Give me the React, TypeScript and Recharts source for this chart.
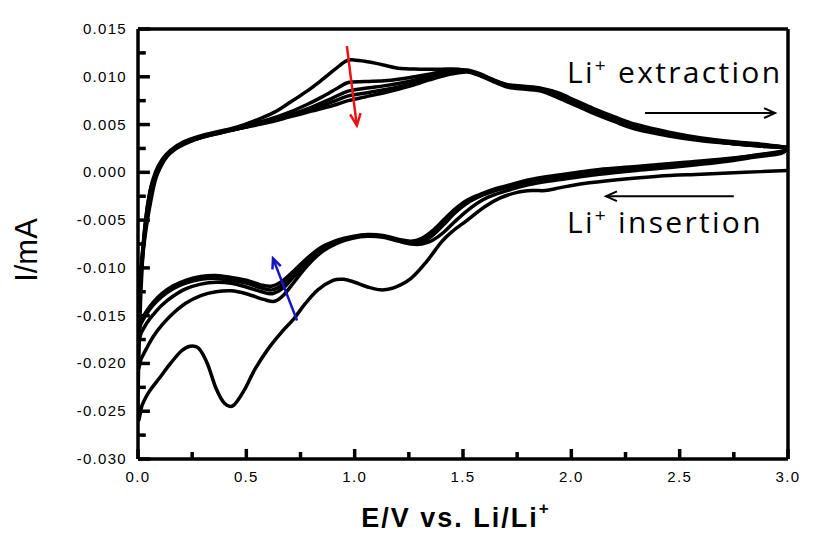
import { LineChart, Line, XAxis, YAxis, ReferenceLine } from 'recharts'

const INK = '#000'
const TICK_FONT = '"Liberation Sans", Arial, sans-serif'

// [E (V), I (mA)] — each cycle starts at 3.0 V, sweeps down (insertion) and back up (extraction)
const cycle1: [number, number][] = [
  [3.0, 0.0002], [2.8, 0.0], [2.6, -0.0002], [2.4, -0.0004], [2.2, -0.0008], [2.05, -0.0012], [1.95, -0.0016],
  [1.88, -0.0019], [1.82, -0.0019], [1.75, -0.0021], [1.67, -0.0027], [1.6, -0.0036], [1.52, -0.005], [1.45, -0.0062],
  [1.4, -0.0073], [1.33, -0.0094], [1.26, -0.0111], [1.18, -0.0121], [1.12, -0.0123], [1.06, -0.012], [1.0, -0.0115],
  [0.95, -0.0112], [0.9, -0.0113], [0.83, -0.0123], [0.77, -0.0138], [0.72, -0.0153], [0.66, -0.0168], [0.6, -0.0185],
  [0.54, -0.0206], [0.49, -0.0228], [0.44, -0.0244], [0.4, -0.0242], [0.36, -0.0226], [0.32, -0.02], [0.28, -0.0184],
  [0.24, -0.0182], [0.2, -0.0187], [0.15, -0.02], [0.1, -0.0215], [0.05, -0.023], [0.02, -0.0243], [0.0, -0.0255],
  [0.008, -0.016], [0.02, -0.0095], [0.035, -0.005], [0.055, -0.002], [0.08, 0.0], [0.11, 0.0013], [0.15, 0.0023],
  [0.21, 0.0032], [0.3, 0.0039], [0.45, 0.0047], [0.55, 0.0055], [0.63, 0.0063], [0.7, 0.0073], [0.78, 0.0085],
  [0.85, 0.0097], [0.91, 0.0108], [0.965, 0.0117], [1.02, 0.0117], [1.1, 0.0114], [1.2, 0.0109], [1.3, 0.0108],
  [1.4, 0.0108], [1.48, 0.0108], [1.55, 0.0104], [1.62, 0.0098], [1.7, 0.0092], [1.78, 0.009], [1.86, 0.0088],
  [1.94, 0.0083], [2.02, 0.0075], [2.1, 0.0067], [2.2, 0.0058], [2.3, 0.005], [2.45, 0.0042], [2.6, 0.0036],
  [2.75, 0.0032], [2.9, 0.0029], [3.0, 0.0026],
]

const cycle2: [number, number][] = [
  [3.0, 0.0026], [2.97, 0.002], [2.85, 0.0016], [2.7, 0.0011], [2.5, 0.0006], [2.3, 0.0002], [2.13, -0.0002],
  [2.0, -0.0006], [1.9, -0.0009], [1.8, -0.0013], [1.72, -0.0018], [1.65, -0.0023], [1.59, -0.0029], [1.52, -0.004],
  [1.46, -0.0052], [1.41, -0.0063], [1.36, -0.0071], [1.31, -0.0075], [1.26, -0.0075], [1.2, -0.0072], [1.13, -0.0068],
  [1.06, -0.0067], [0.99, -0.0069], [0.92, -0.0074], [0.85, -0.0083], [0.78, -0.0098], [0.72, -0.0115], [0.67, -0.0129],
  [0.63, -0.0135], [0.58, -0.0133], [0.5, -0.0127], [0.43, -0.0124], [0.36, -0.0125], [0.29, -0.0129], [0.22, -0.0137],
  [0.16, -0.0148], [0.11, -0.016], [0.07, -0.0172], [0.04, -0.0184], [0.015, -0.0195], [0.0, -0.0202],
  [0.008, -0.013], [0.022, -0.008], [0.04, -0.0042], [0.062, -0.0014], [0.09, 0.0003], [0.12, 0.0014], [0.16, 0.0024],
  [0.22, 0.0032], [0.3, 0.0038], [0.45, 0.0046], [0.6, 0.0055], [0.7, 0.0063], [0.78, 0.0071], [0.85, 0.0079],
  [0.92, 0.0088], [0.97, 0.0094], [1.05, 0.0095], [1.15, 0.0096], [1.25, 0.0099], [1.35, 0.0103], [1.45, 0.0107],
  [1.52, 0.0107], [1.58, 0.0103], [1.64, 0.0097], [1.71, 0.0091], [1.79, 0.0089], [1.86, 0.0087], [1.94, 0.0082],
  [2.02, 0.0074], [2.1, 0.0066], [2.2, 0.0057], [2.3, 0.0049], [2.45, 0.0041], [2.6, 0.0035], [2.75, 0.0031],
  [2.9, 0.0028], [3.0, 0.0026],
]

const cycle3: [number, number][] = [
  [3.0, 0.0026], [2.97, 0.0021], [2.85, 0.0017], [2.7, 0.0013], [2.5, 0.0008], [2.3, 0.0004], [2.13, 0.0001],
  [2.0, -0.0003], [1.9, -0.0006], [1.8, -0.001], [1.72, -0.0015], [1.65, -0.0019], [1.59, -0.0024], [1.52, -0.0032],
  [1.46, -0.0043], [1.41, -0.0055], [1.36, -0.0066], [1.31, -0.0073], [1.26, -0.0074], [1.2, -0.0071], [1.13, -0.0067],
  [1.06, -0.0066], [0.99, -0.0068], [0.92, -0.0073], [0.85, -0.0081], [0.78, -0.0095], [0.72, -0.0109], [0.67, -0.0121],
  [0.62, -0.0127], [0.57, -0.0125], [0.5, -0.012], [0.43, -0.0116], [0.36, -0.0115], [0.29, -0.0117], [0.22, -0.0122],
  [0.16, -0.013], [0.11, -0.0139], [0.07, -0.0149], [0.04, -0.0158], [0.015, -0.0168], [0.0, -0.0175],
  [0.01, -0.0118], [0.025, -0.0074], [0.045, -0.0039], [0.068, -0.0012], [0.095, 0.0004], [0.125, 0.0015],
  [0.165, 0.0024], [0.22, 0.0031], [0.3, 0.0037], [0.45, 0.0045], [0.6, 0.0054], [0.7, 0.006], [0.8, 0.0068],
  [0.9, 0.0078], [0.97, 0.0085], [1.05, 0.0088], [1.15, 0.0091], [1.25, 0.0095], [1.35, 0.0101], [1.45, 0.0106],
  [1.52, 0.0106], [1.58, 0.0102], [1.64, 0.0096], [1.71, 0.009], [1.79, 0.0088], [1.86, 0.0086], [1.94, 0.008],
  [2.02, 0.0072], [2.1, 0.0064], [2.2, 0.0055], [2.3, 0.0047], [2.45, 0.004], [2.6, 0.0034], [2.75, 0.003],
  [2.9, 0.0028], [3.0, 0.0026],
]

const cycle4: [number, number][] = [
  [3.0, 0.0026], [2.97, 0.0021], [2.85, 0.0018], [2.7, 0.0013], [2.5, 0.0009], [2.3, 0.0005], [2.13, 0.0002],
  [2.0, -0.0002], [1.9, -0.0005], [1.8, -0.0009], [1.72, -0.0014], [1.65, -0.0018], [1.59, -0.0023], [1.52, -0.003],
  [1.46, -0.004], [1.41, -0.0052], [1.36, -0.0063], [1.31, -0.0071], [1.26, -0.0073], [1.2, -0.0071], [1.13, -0.0067],
  [1.06, -0.0066], [0.99, -0.0068], [0.92, -0.0072], [0.85, -0.008], [0.78, -0.0093], [0.72, -0.0106], [0.67, -0.0117],
  [0.62, -0.0123], [0.57, -0.0121], [0.5, -0.0116], [0.43, -0.0113], [0.36, -0.0111], [0.29, -0.0112], [0.22, -0.0116],
  [0.16, -0.0122], [0.11, -0.013], [0.07, -0.0139], [0.04, -0.0148], [0.015, -0.0158], [0.0, -0.0166],
  [0.012, -0.0112], [0.028, -0.0071], [0.05, -0.0037], [0.074, -0.001], [0.1, 0.0005], [0.13, 0.0016],
  [0.17, 0.0024], [0.23, 0.0031], [0.3, 0.0037], [0.45, 0.0045], [0.6, 0.0053], [0.7, 0.0059], [0.8, 0.0066],
  [0.9, 0.0074], [0.97, 0.008], [1.05, 0.0083], [1.15, 0.0087], [1.25, 0.0092], [1.35, 0.0099], [1.45, 0.0105],
  [1.52, 0.0106], [1.58, 0.0102], [1.64, 0.0096], [1.71, 0.009], [1.79, 0.0088], [1.86, 0.0086], [1.94, 0.0079],
  [2.02, 0.0071], [2.1, 0.0063], [2.2, 0.0054], [2.3, 0.0046], [2.45, 0.0039], [2.6, 0.0034], [2.75, 0.003],
  [2.9, 0.0027], [3.0, 0.0026],
]

const cycle5: [number, number][] = [
  [3.0, 0.0026], [2.97, 0.0022], [2.85, 0.0018], [2.7, 0.0014], [2.5, 0.001], [2.3, 0.0006], [2.13, 0.0003],
  [2.0, -0.0001], [1.9, -0.0004], [1.8, -0.0008], [1.72, -0.0013], [1.65, -0.0017], [1.59, -0.0022], [1.52, -0.0029],
  [1.46, -0.0039], [1.41, -0.005], [1.36, -0.0061], [1.31, -0.0069], [1.26, -0.0072], [1.2, -0.007], [1.13, -0.0066],
  [1.06, -0.0065], [0.99, -0.0067], [0.92, -0.0071], [0.85, -0.0078], [0.78, -0.009], [0.72, -0.0103], [0.67, -0.0113],
  [0.62, -0.0119], [0.57, -0.0118], [0.5, -0.0113], [0.43, -0.011], [0.36, -0.0108], [0.29, -0.0109], [0.22, -0.0113],
  [0.16, -0.0119], [0.11, -0.0127], [0.07, -0.0136], [0.04, -0.0145], [0.015, -0.0155], [0.0, -0.0162],
  [0.014, -0.0108], [0.032, -0.0068], [0.055, -0.0035], [0.08, -0.0008], [0.105, 0.0006], [0.135, 0.0017],
  [0.175, 0.0025], [0.23, 0.0032], [0.3, 0.0038], [0.45, 0.0045], [0.6, 0.0052], [0.7, 0.0058], [0.8, 0.0064],
  [0.9, 0.007], [0.97, 0.0075], [1.05, 0.0079], [1.15, 0.0084], [1.25, 0.009], [1.35, 0.0097], [1.45, 0.0103],
  [1.52, 0.0105], [1.58, 0.0101], [1.64, 0.0095], [1.71, 0.0089], [1.79, 0.0087], [1.86, 0.0085], [1.94, 0.0078],
  [2.02, 0.007], [2.1, 0.0062], [2.2, 0.0053], [2.3, 0.0045], [2.45, 0.0038], [2.6, 0.0033], [2.75, 0.003],
  [2.9, 0.0027], [3.0, 0.0026],
]

const cycles = [cycle1, cycle2, cycle3, cycle4, cycle5]

const xMajor = [0, 0.5, 1, 1.5, 2, 2.5, 3]
const xMinor = [0.25, 0.75, 1.25, 1.75, 2.25, 2.75]
const yMajor = [-0.03, -0.025, -0.02, -0.015, -0.01, -0.005, 0, 0.005, 0.01, 0.015]
const yMinor = [-0.0275, -0.0225, -0.0175, -0.0125, -0.0075, -0.0025, 0.0025, 0.0075, 0.0125]

const X0 = 0, X1 = 3, Y0 = -0.03, Y1 = 0.015

// annotation arrows: [start, end] in data coords
const redArrow = [{ x: 0.964, y: 0.0132 }, { x: 1.01, y: 0.0049 }]
const blueArrow = [{ x: 0.734, y: -0.0155 }, { x: 0.623, y: -0.009 }]
const extractArrow = [{ x: 2.34, y: 0.0062 }, { x: 2.94, y: 0.0062 }]
const insertArrow = [{ x: 2.75, y: -0.0025 }, { x: 2.16, y: -0.0025 }]

// Catmull-Rom through every point (x goes back and forth, so no monotone curve)
function smooth(context: any) {
  let pts: number[][] = []
  return {
    areaStart() {}, areaEnd() {},
    lineStart() { pts = [] },
    point(x: number, y: number) { pts.push([x, y]) },
    lineEnd() {
      if (!pts.length) return
      context.moveTo(pts[0][0], pts[0][1])
      for (let i = 0; i < pts.length - 1; i++) {
        const p0 = pts[Math.max(i - 1, 0)], p1 = pts[i], p2 = pts[i + 1], p3 = pts[Math.min(i + 2, pts.length - 1)]
        context.bezierCurveTo(
          p1[0] + (p2[0] - p0[0]) / 6, p1[1] + (p2[1] - p0[1]) / 6,
          p2[0] - (p3[0] - p1[0]) / 6, p2[1] - (p3[1] - p1[1]) / 6,
          p2[0], p2[1],
        )
      }
    },
  }
}

function arrow(color: string, w: number, head: number) {
  return (p: any) => {
    const { x1, y1, x2, y2 } = p
    const a = Math.atan2(y2 - y1, x2 - x1)
    const s = 0.42
    const h1 = `${x2 - head * Math.cos(a - s)},${y2 - head * Math.sin(a - s)}`
    const h2 = `${x2 - head * Math.cos(a + s)},${y2 - head * Math.sin(a + s)}`
    return (
      <g>
        <line x1={x1} y1={y1} x2={x2} y2={y2} stroke={color} strokeWidth={w} />
        <polyline points={`${h1} ${x2},${y2} ${h2}`} fill="none" stroke={color} strokeWidth={w} />
      </g>
    )
  }
}

// inward tick mark, drawn as a short segment through the chart scales
function tickMark(p: any) {
  return <line x1={p.x1} y1={p.y1} x2={p.x2} y2={p.y2} stroke={INK} strokeWidth={3.5} />
}

function YLabel({ x, y, payload }: any) {
  return (
    <text x={Number(x) - 11} y={Number(y) + 5} textAnchor="end" fontFamily={TICK_FONT} fontSize={15}
      letterSpacing={1.3} fill={INK}>
      {Number(payload.value).toFixed(3)}
    </text>
  )
}

function XLabel({ x, y, payload }: any) {
  return (
    <text x={Number(x)} y={Number(y) + 23} textAnchor="middle" fontFamily={TICK_FONT} fontSize={15}
      letterSpacing={1.3} fill={INK}>
      {Number(payload.value).toFixed(1)}
    </text>
  )
}

export default function App() {
  return (
    <div style={{ position: 'absolute', left: 0, top: 0, width: 819, height: 539, background: '#fff' }}>
      <LineChart width={819} height={539} margin={{ top: 29, right: 31, left: 0, bottom: 0 }}>
        <XAxis type="number" dataKey="x" domain={[X0, X1]} ticks={xMajor} interval={0} allowDataOverflow
          height={80} tickSize={0} tickMargin={0} tickLine={false} tick={<XLabel />}
          axisLine={{ stroke: INK, strokeWidth: 3.5 }} />
        <YAxis type="number" domain={[Y0, Y1]} ticks={yMajor} interval={0} allowDataOverflow
          width={138} tickSize={0} tickMargin={0} tickLine={false} tick={<YLabel />}
          axisLine={{ stroke: INK, strokeWidth: 3.5 }} />
        <ReferenceLine y={Y1} stroke={INK} strokeWidth={3.5} />
        <ReferenceLine x={X1} stroke={INK} strokeWidth={3.5} />
        {xMajor.map((v) => (
          <ReferenceLine key={'xM' + v} segment={[{ x: v, y: Y0 }, { x: v, y: Y0 + 0.00105 }]} shape={tickMark} />
        ))}
        {xMinor.map((v) => (
          <ReferenceLine key={'xm' + v} segment={[{ x: v, y: Y0 }, { x: v, y: Y0 + 0.00073 }]} shape={tickMark} />
        ))}
        {yMajor.map((v) => (
          <ReferenceLine key={'yM' + v} segment={[{ x: X0, y: v }, { x: X0 + 0.055, y: v }]} shape={tickMark} />
        ))}
        {yMinor.map((v) => (
          <ReferenceLine key={'ym' + v} segment={[{ x: X0, y: v }, { x: X0 + 0.036, y: v }]} shape={tickMark} />
        ))}
        {cycles.map((c, i) => (
          <Line key={i} data={c.map(([x, y]) => ({ x, y }))} dataKey="y" type={smooth as any}
            stroke={INK} strokeWidth={3.5} dot={false} activeDot={false} isAnimationActive={false} />
        ))}
        <ReferenceLine segment={redArrow} shape={arrow('#ee1111', 2.5, 13)} />
        <ReferenceLine segment={blueArrow} shape={arrow('#1515c8', 2.5, 11)} />
        <ReferenceLine segment={extractArrow} shape={arrow(INK, 2, 12)} />
        <ReferenceLine segment={insertArrow} shape={arrow(INK, 2, 12)} />
      </LineChart>
      <svg width={819} height={539} style={{ position: 'absolute', left: 0, top: 0, pointerEvents: 'none' }}>
        <text x={567} y={83} fontFamily='"Open Sans", sans-serif' fontSize={30} letterSpacing={2.3} fill={INK}>
          Li<tspan dy={-11} fontSize={19}>+</tspan><tspan dy={11}>{' extraction'}</tspan>
        </text>
        <text x={567} y={233} fontFamily='"Open Sans", sans-serif' fontSize={30} letterSpacing={2.3} fill={INK}>
          Li<tspan dy={-11} fontSize={19}>+</tspan><tspan dy={11}>{' insertion'}</tspan>
        </text>
        <text x={456} y={527} textAnchor="middle" fontFamily={TICK_FONT} fontWeight="bold" fontSize={27}
          letterSpacing={2} fill={INK}>
          E/V vs. Li/Li<tspan dy={-13} fontSize={17}>+</tspan>
        </text>
        <text transform="translate(37,250) rotate(-90)" textAnchor="middle" fontFamily={TICK_FONT} fontSize={31} fill={INK}>
          I/mA
        </text>
      </svg>
    </div>
  )
}
